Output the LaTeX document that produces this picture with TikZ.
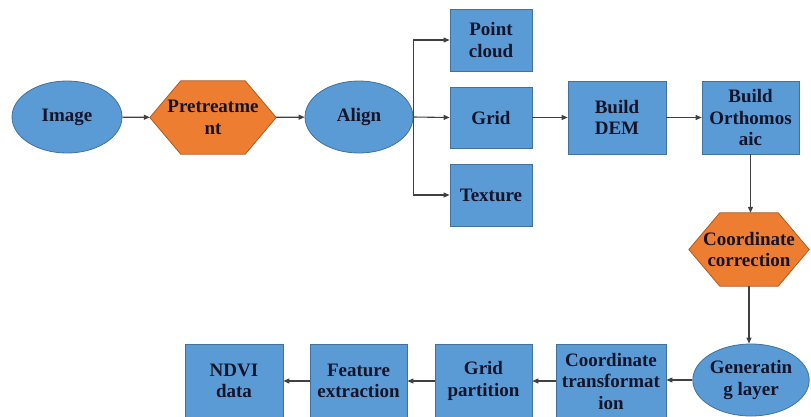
\documentclass[tikz,border=0pt]{standalone}
\usepackage{fontspec}
\setmainfont{Liberation Serif}
\newfontfamily\lblfont{Liberation Serif}[BoldFont={Liberation Serif Bold}]
\usetikzlibrary{shapes.geometric,arrows.meta,calc,backgrounds}
\definecolor{bfill}{HTML}{5B9BD5}
\definecolor{bline}{HTML}{41719C}
\definecolor{ofill}{HTML}{ED7D31}
\definecolor{oline}{HTML}{AE5A21}
\definecolor{txt}{HTML}{14142A}
\definecolor{conn}{HTML}{404040}
\tikzset{
  lbl/.style={font=\lblfont\fontsize{19}{21.5}\selectfont\bfseries, text=txt, align=center, inner sep=0pt},
  ell/.style={lbl, ellipse, draw=bline, fill=bfill, line width=0.8pt},
  box/.style={lbl, rectangle, draw=bline, fill=bfill, line width=0.8pt},
  hexnode/.style={lbl, rectangle, minimum height=73pt},
  hexbg/.style={draw=oline, fill=ofill, line width=0.8pt},
  arr/.style={draw=conn, line width=1.1pt, -{Triangle[length=6pt,width=5pt]}},
}
\begin{document}
\begin{tikzpicture}[x=1pt,y=-1pt]
\useasboundingbox (0,0) rectangle (811,416);
\clip (0,0) rectangle (811,416);
% top row
\node[ell, minimum width=110pt, minimum height=72pt] (img) at (67,117) {Image};
\node[hexnode, minimum width=126pt] (pre) at (213,117.5) {Pretreatme\\nt};
\node[ell, minimum width=108pt, minimum height=72pt] (align) at (359,117) {Align};
\node[box, minimum width=82pt, minimum height=62pt] (pc) at (491,40) {Point\\cloud};
\node[box, minimum width=82pt, minimum height=61pt] (grid) at (491,117.5) {Grid};
\node[box, minimum width=82pt, minimum height=62pt] (tex) at (491,195) {Texture};
\node[box, minimum width=98pt, minimum height=73pt] (dem) at (617,117.5) {Build\\DEM};
\node[box, minimum width=97pt, minimum height=73pt] (ortho) at (750.5,117.5) {Build\\Orthomos\\aic};
% right column
\node[hexnode, minimum width=120pt] (cc) at (749,249.5) {Coordinate\\correction};
\node[ell, minimum width=112pt, minimum height=72pt] (gen) at (751,380) {Generatin\\g layer};
% bottom row
\node[box, minimum width=110pt, minimum height=74pt] (ct) at (611,381) {Coordinate\\transformat\\ion};
\node[box, minimum width=97pt, minimum height=74pt] (gp) at (483.5,381) {Grid\\partition};
\node[box, minimum width=97pt, minimum height=74pt] (fe) at (358.5,381) {Feature\\extraction};
\node[box, minimum width=98pt, minimum height=74pt] (ndvi) at (234,381) {NDVI\\data};
% hexagon backgrounds
\begin{scope}[on background layer]
\path[hexbg] (pre.west) -- ($(pre.north west)+(31,0)$) -- ($(pre.north east)+(-31,0)$) -- (pre.east)
  -- ($(pre.south east)+(-31,0)$) -- ($(pre.south west)+(31,0)$) -- cycle;
\path[hexbg] (cc.west) -- ($(cc.north west)+(31,0)$) -- ($(cc.north east)+(-31,0)$) -- (cc.east)
  -- ($(cc.south east)+(-31,0)$) -- ($(cc.south west)+(31,0)$) -- cycle;
\end{scope}
% connectors
\draw[arr] (img) -- (pre);
\draw[arr] (pre) -- (align);
\draw[arr] (align.east) |- (pc.west);
\draw[arr] (align.east) -- (grid.west);
\draw[arr] (align.east) |- (tex.west);
\draw[arr] (grid) -- (dem);
\draw[arr] (dem) -- (ortho);
\draw[arr] (ortho.south) -- (ortho.south |- cc.north);
\draw[arr] (cc.south) -- (cc.south |- gen.north);
\draw[arr] (gen.west) -- (ct.east |- gen.west);
\draw[arr] (ct) -- (gp);
\draw[arr] (gp) -- (fe);
\draw[arr] (fe) -- (ndvi);
\end{tikzpicture}
\end{document}
